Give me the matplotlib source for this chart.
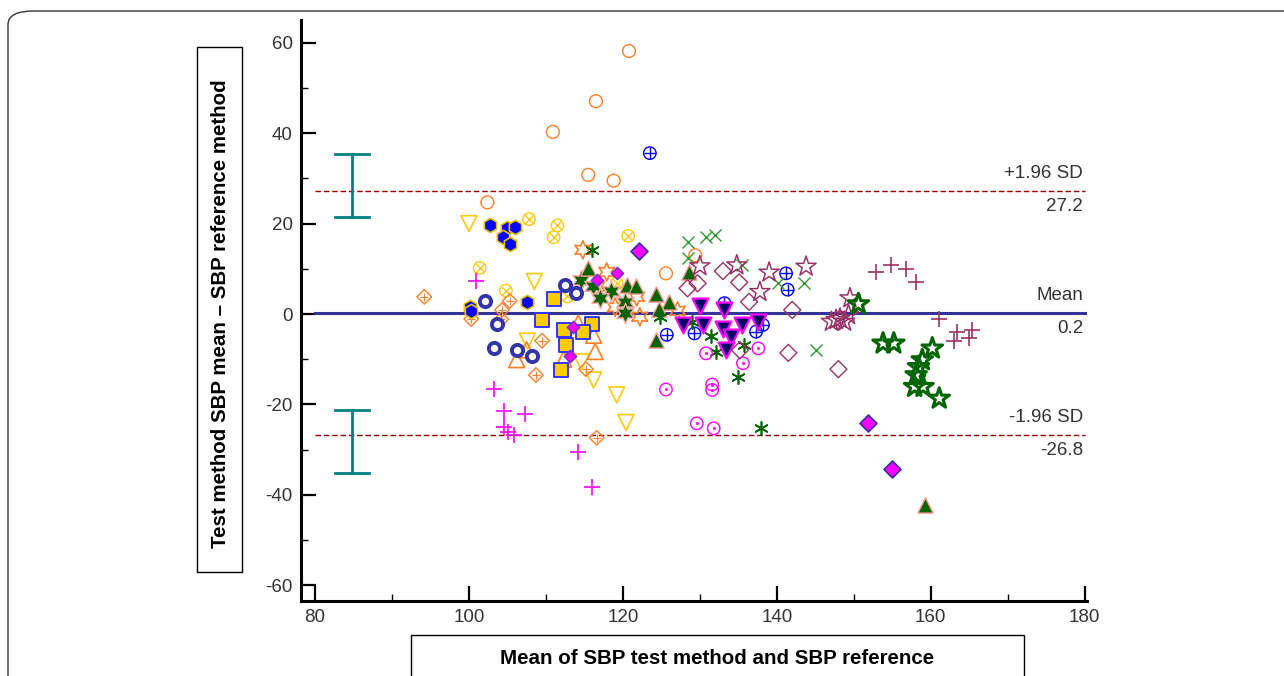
import matplotlib

matplotlib.use("Agg")

import matplotlib.pyplot as plt
from matplotlib.patches import FancyBboxPatch, Rectangle

# --- Bland-Altman summary values ---
MEAN_DIFF = 0.2
UPPER_LOA = 27.2
LOWER_LOA = -26.8
UPPER_CI = (21.4, 35.4)
LOWER_CI = (-21.2, -35.2)
CI_X = 84.8

x_ticks = [80, 100, 120, 140, 160, 180]
y_ticks = [-60, -40, -20, 0, 20, 40, 60]

# --- points per group: (mean of methods, difference) ---
orange_circles = [(102.4, 24.7), (110.9, 40.3), (115.5, 30.8), (116.5, 47.1),
                  (118.8, 29.5), (120.8, 58.2), (125.6, 9.0), (129.4, 13.0)]
blue_oplus = [(123.5, 35.6), (125.7, -4.6), (129.3, -4.3), (133.2, 2.4),
              (137.3, -3.9), (138.2, -2.4), (141.2, 9.0), (141.4, 5.4)]
blue_hexagons = [(102.8, 19.7), (104.9, 19.0), (106.0, 19.2), (104.4, 17.0),
                 (105.4, 15.6), (107.6, 2.7), (100.1, 1.5), (100.3, 0.6)]
yellow_otimes = [(107.8, 21.0), (111.5, 19.6), (111.0, 17.0), (101.4, 10.2),
                 (104.8, 5.2), (112.8, 3.9), (120.7, 17.3), (119.2, 6.8)]
yellow_down_tri = [(100.0, 20.0), (108.5, 7.2), (107.6, -6.0), (114.6, -10.6),
                   (116.2, -14.6), (119.2, -17.9), (120.4, -24.0)]
orange_cross_diamonds = [(94.2, 3.8), (100.3, -1.1), (104.2, -1.2), (104.3, 0.9),
                         (105.3, 2.9), (109.5, -5.9), (108.7, -13.5),
                         (115.2, -12.2), (116.6, -27.4)]
magenta_plus = [(100.9, 7.4), (103.2, -16.6), (104.5, -21.4), (107.3, -22.1),
                (104.5, -25.0), (105.1, -26.2), (105.8, -26.8), (114.2, -30.6),
                (116.0, -38.3)]
yellow_squares = [(111.0, 3.3), (109.5, -1.3), (112.3, -3.5), (116.0, -2.1),
                  (114.8, -3.9), (112.6, -6.9), (112.0, -12.5)]
orange_up_tri = [(114.2, -2.0), (116.2, -4.7), (116.4, -8.3), (112.3, -10.0),
                 (106.2, -10.1), (107.5, -7.9)]
navy_rings = [(102.1, 2.8), (103.6, -2.1), (103.2, -7.6), (106.3, -8.0),
              (108.2, -9.3), (112.5, 6.4), (113.9, 4.7)]
orange_stars6 = [(114.8, 14.2), (117.9, 9.3), (116.6, 6.1), (121.8, 3.8),
                 (122.2, -0.6), (127.1, 0.7), (119.0, 1.5)]
green_stars6 = [(114.5, 7.5), (116.1, 6.1), (118.5, 5.0), (120.3, 2.7),
                (120.3, 0.3), (117.0, 3.5)]
green_up_tri = [(115.5, 10.1), (120.5, 6.4), (121.7, 6.2), (124.3, 4.5),
                (126.0, 2.7), (124.7, 1.2), (124.3, -5.8), (128.6, 9.4),
                (159.2, -42.3)]
magenta_diamonds = [(122.1, 13.9), (151.8, -24.2), (155.0, -34.4)]
magenta_small_diamonds = [(116.6, 7.5), (119.2, 9.0), (113.5, -2.8), (113.1, -9.4)]
green_asterisks = [(116.0, 14.2), (129.0, -1.7), (131.5, -4.9), (132.1, -8.3),
                   (135.8, -6.8), (135.0, -14.0), (137.9, -25.3), (124.8, -0.6)]
navy_down_tri = [(130.0, 1.8), (127.8, -2.4), (130.4, -2.4), (133.0, -3.4),
                 (134.1, -5.0), (135.5, -2.4), (137.6, -1.7), (133.4, -8.0),
                 (133.1, 0.9)]
magenta_odot = [(125.6, -16.7), (129.6, -24.2), (131.8, -25.3), (130.8, -8.7),
                (131.6, -15.6), (131.6, -16.8), (135.6, -10.9), (137.6, -7.6)]
green_x = [(128.5, 16.0), (130.8, 17.1), (132.0, 17.5), (128.5, 12.3),
           (135.5, 10.8), (140.2, 6.8), (143.5, 6.8), (145.1, -8.0)]
maroon_diamonds = [(133.0, 9.5), (135.1, 7.0), (128.4, 5.7), (129.7, 6.8),
                   (136.4, 2.7), (142.0, 0.9), (141.5, -8.6), (148.0, -12.2),
                   (135.2, -8.0)]
maroon_stars = [(130.0, 10.6), (134.8, 10.8), (139.0, 9.2), (143.8, 10.5),
                (137.8, 4.9), (149.5, 3.5), (147.7, -1.3), (148.8, -1.7),
                (149.3, -0.2), (148.2, -1.0), (147.1, -1.7)]
maroon_plus = [(152.9, 9.2), (154.8, 10.8), (156.8, 10.0), (158.1, 7.0),
               (161.1, -1.2), (163.4, -3.9), (163.0, -5.9), (165.4, -3.5),
               (165.0, -5.4)]
green_open_stars = [(150.6, 2.2), (153.8, -6.5), (155.2, -6.5), (160.2, -7.6),
                    (158.9, -10.2), (158.4, -11.7), (158.1, -13.5), (157.9, -16.1),
                    (159.0, -16.1), (161.1, -18.7)]

plt.rcParams["font.family"] = ["Liberation Sans", "DejaVu Sans"]
plt.rcParams["axes.unicode_minus"] = False

fig = plt.figure(figsize=(12.84, 6.76), dpi=100)
ax = fig.add_axes([0.2344, 0.111, 0.6122, 0.859])

LINE_MARKERS = ("+", "x", (6, 2, 0))


def pts(data, marker, s, fc="none", ec="black", lw=1.0, z=3):
    xs = [p[0] for p in data]
    ys = [p[1] for p in data]
    if marker in LINE_MARKERS:
        # line-only markers take their colour from c, not from edgecolors
        ax.scatter(xs, ys, marker=marker, s=s, c=ec, linewidths=lw, zorder=z)
    else:
        ax.scatter(xs, ys, marker=marker, s=s, facecolors=fc, edgecolors=ec,
                   linewidths=lw, zorder=z)


ORANGE = "#ff7f27"
YELLOW = "#ffc90e"
GREEN = "#006400"
MAROON = "#993366"
MAGENTA = "#ff00ff"
BLUE = "#0000ff"
NAVY = "#000066"

# reference lines
ax.plot([80, 180], [MEAN_DIFF, MEAN_DIFF], color="#333399", lw=2.2, zorder=2)
for v in (UPPER_LOA, LOWER_LOA):
    ax.plot([80, 180], [v, v], color="#990000", lw=1.0, ls=(0, (4, 2)), zorder=2)

# CI bars of the limits
for lo, hi in (UPPER_CI, LOWER_CI):
    ax.plot([CI_X, CI_X], [lo, hi], color="#008080", lw=2.0)
    ax.plot([CI_X - 2.2, CI_X + 2.2], [lo, lo], color="#008080", lw=2.0)
    ax.plot([CI_X - 2.2, CI_X + 2.2], [hi, hi], color="#008080", lw=2.0)

# point groups
pts(orange_circles, "o", 85, ec=ORANGE)
pts(blue_oplus, "o", 80, ec=BLUE)
pts(blue_oplus, "+", 80, ec=BLUE)
pts(yellow_otimes, "o", 80, ec=YELLOW)
pts(yellow_otimes, "x", 40, ec=YELLOW)
pts(yellow_down_tri, "v", 130, ec=YELLOW, lw=1.2)
pts(orange_cross_diamonds, "D", 55, ec=ORANGE)
pts(orange_cross_diamonds, "+", 40, ec=ORANGE, lw=0.8)
pts(magenta_plus, "+", 140, ec=MAGENTA, lw=1.2)
pts(orange_up_tri, "^", 130, ec=ORANGE, lw=1.2)
pts(orange_stars6, (6, 1, 0), 170, ec=ORANGE, lw=1.2)
pts(green_stars6, (6, 1, 0), 210, fc=GREEN, ec="#ffaaaa", lw=1.0)
pts(yellow_squares, "s", 95, fc="#ffcc00", ec="#3333ff", lw=1.4)
pts(navy_rings, "o", 65, fc="white", ec="#3333aa", lw=2.8)
pts(blue_hexagons, "h", 105, fc=BLUE, ec="#e6c000", lw=1.2)
pts(green_up_tri, "^", 120, fc=GREEN, ec="#ff9999", lw=1.0)
pts(magenta_small_diamonds, "D", 40, fc=MAGENTA, ec="#6633cc", lw=1.0)
pts(magenta_diamonds, "D", 75, fc=MAGENTA, ec="#333399", lw=1.2)
pts(green_asterisks, (6, 2, 0), 90, ec=GREEN, lw=1.2)
pts(navy_down_tri, "v", 130, fc=NAVY, ec=MAGENTA, lw=1.6)
pts(magenta_odot, "o", 80, ec=MAGENTA)
pts(magenta_odot, ".", 6, fc=MAGENTA, ec=MAGENTA)
pts(green_x, "x", 75, ec="#339933")
pts(maroon_diamonds, "D", 75, ec=MAROON)
pts(maroon_stars, "*", 230, ec=MAROON, lw=1.1)
pts(maroon_plus, "+", 120, ec=MAROON, lw=1.2)
pts(green_open_stars, "*", 240, ec=GREEN, lw=2.2)

# limit labels on the right
for v, above, below in ((UPPER_LOA, "+1.96 SD", "27.2"),
                        (MEAN_DIFF, "Mean", "0.2"),
                        (LOWER_LOA, "-1.96 SD", "-26.8")):
    ax.text(179.8, v + 2.0, above, ha="right", va="bottom", fontsize=13.5, color="#333333")
    ax.text(179.8, v - 1.6, below, ha="right", va="top", fontsize=13.5, color="#333333")

ax.set_xlim(78.18, 180.3)
ax.set_ylim(-63.5, 65)
ax.set_xticks(x_ticks)
ax.set_yticks(y_ticks)
ax.set_xticks([90, 110, 130, 150, 170], minor=True)
ax.set_yticks([-50, -30, -10, 10, 30, 50], minor=True)
ax.tick_params(which="major", direction="in", length=10.5, width=1.6,
               labelsize=13.5, labelcolor="#333333", pad=6)
ax.tick_params(which="minor", direction="in", length=5, width=1.0)
for side in ("top", "right"):
    ax.spines[side].set_visible(False)
for side in ("left", "bottom"):
    ax.spines[side].set_linewidth(2.2)

# boxed axis titles
fig.patches.append(Rectangle((197 / 1284, 1 - 572 / 676), 45 / 1284, 525 / 676,
                             transform=fig.transFigure, fill=False, lw=1.0,
                             ec="black"))
fig.text(221 / 1284, 1 - 314 / 676, "Test method SBP mean \u2013 SBP reference method",
         rotation=90, ha="center", va="center", fontsize=14.8, fontweight="bold")
fig.patches.append(Rectangle((411 / 1284, -0.05), 613 / 1284, (676 - 635) / 676 + 0.05,
                             transform=fig.transFigure, fill=False, lw=1.0,
                             ec="black"))
fig.text(717 / 1284, 1 - 659 / 676, "Mean of SBP test method and SBP reference",
         ha="center", va="center", fontsize=14.8, fontweight="bold")

# outer rounded frame
fig.patches.append(FancyBboxPatch((8 / 1284, -0.1), 1.2, 1 - 11 / 676 + 0.1,
                                  boxstyle="round,pad=0,rounding_size=0.02",
                                  transform=fig.transFigure, fill=False,
                                  lw=1.0, ec="#333333"))

fig.savefig("out.png", dpi=100)
